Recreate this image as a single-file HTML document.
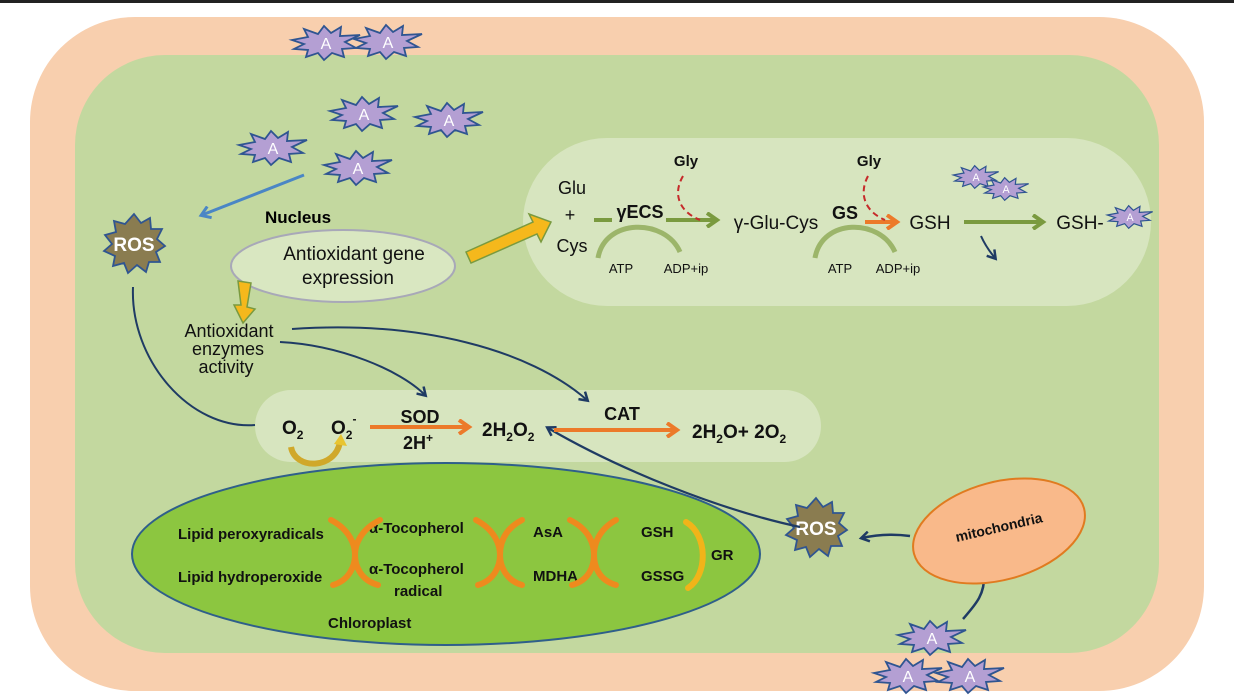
<!DOCTYPE html>
<html><head><meta charset="utf-8"><style>
html,body{margin:0;padding:0;background:#fff;}
svg{display:block;}
text{font-family:"Liberation Sans",sans-serif;}
</style></head><body>
<svg width="1234" height="696" viewBox="0 0 1234 696" xmlns="http://www.w3.org/2000/svg">
<defs>
<symbol id="star" viewBox="-36 -18 72 36" overflow="visible">
<polygon points="-34,-3 -18,-6 -22,-14 -8,-9 -2,-17 5,-10 15,-16 14,-7 34,-8 19,-1 30,5 16,6 18,14 6,10 -2,17 -8,10 -20,14 -18,7 -32,6 -22,1" fill="#b49fd3" stroke="#2f5591" stroke-width="1.8" stroke-linejoin="miter"/>
<text x="0" y="6" text-anchor="middle" font-size="16" fill="#fff">A</text>
</symbol>
<symbol id="ros" viewBox="-32 -30 64 60" overflow="visible">
<polygon points="0,-30 7,-21 16,-26 17,-15 28,-15 23,-5 31,2 22,8 26,18 15,18 12,28 3,21 -6,29 -10,19 -21,22 -19,12 -30,7 -22,0 -29,-9 -18,-12 -20,-23 -9,-20" fill="#8a7c50" stroke="#2f5591" stroke-width="1.8"/>
<text x="0" y="7" text-anchor="middle" font-size="19" font-weight="bold" fill="#fff">ROS</text>
</symbol>
<marker id="ab" markerWidth="12" markerHeight="12" refX="8" refY="6" orient="auto" markerUnits="userSpaceOnUse"><path d="M1,1 L9,6 L1,11" fill="none" stroke="#1f3b64" stroke-width="2.5"/></marker>
<marker id="al" markerWidth="14" markerHeight="14" refX="9" refY="7" orient="auto" markerUnits="userSpaceOnUse"><path d="M1,1 L10,7 L1,13" fill="none" stroke="#4a86c5" stroke-width="3"/></marker>
<marker id="ag" markerWidth="16" markerHeight="16" refX="11" refY="8" orient="auto" markerUnits="userSpaceOnUse"><path d="M2,1 L12,8 L2,15" fill="none" stroke="#7a9a3f" stroke-width="4"/></marker>
<marker id="ao" markerWidth="16" markerHeight="16" refX="11" refY="8" orient="auto" markerUnits="userSpaceOnUse"><path d="M2,1 L12,8 L2,15" fill="none" stroke="#ec7a2a" stroke-width="4"/></marker>
</defs>
<rect width="1234" height="696" fill="#fff"/>
<rect x="0" y="0" width="1234" height="3" fill="#222"/>
<rect x="30" y="17" width="1174" height="674" rx="105" fill="#f8cfae"/>
<rect x="75" y="55" width="1084" height="598" rx="90" fill="#c3d89f"/>

<rect x="523" y="138" width="628" height="168" rx="84" fill="#d7e5bf"/>
<rect x="255" y="390" width="566" height="72" rx="36" fill="#d7e5bf"/>

<use href="#star" x="290" y="25" width="72" height="36"/>
<use href="#star" x="352" y="24" width="72" height="36"/>
<use href="#star" x="328" y="96" width="72" height="36"/>
<use href="#star" x="413" y="102" width="72" height="36"/>
<use href="#star" x="237" y="130" width="72" height="36"/>
<use href="#star" x="322" y="150" width="72" height="36"/>
<use href="#star" x="952" y="162" width="48" height="30"/>
<use href="#star" x="982" y="174" width="48" height="30"/>
<use href="#star" x="1106" y="202" width="48" height="30"/>
<use href="#star" x="896" y="620" width="72" height="36"/>
<use href="#star" x="872" y="658" width="72" height="36"/>
<use href="#star" x="934" y="658" width="72" height="36"/>

<use href="#ros" x="102" y="214" width="64" height="60"/>
<use href="#ros" x="784" y="498" width="64" height="60"/>

<line x1="304" y1="175" x2="202" y2="215" stroke="#4a86c5" stroke-width="3" marker-end="url(#al)"/>

<text x="265" y="223" font-size="17" font-weight="bold" fill="#000">Nucleus</text>
<ellipse cx="343" cy="266" rx="112" ry="36" fill="#d9e7c1" stroke="#a8a8b8" stroke-width="2"/>
<text x="354" y="260" text-anchor="middle" font-size="19" fill="#111">Antioxidant gene</text>
<text x="348" y="284" text-anchor="middle" font-size="19" fill="#111">expression</text>

<polygon points="466,252 533,222 529,214 551,222 541,242 537,234 471,263" fill="#f5b81c" stroke="#7a9a3f" stroke-width="1.5"/>
<polygon points="238,281 251,283 247,307 255,309 243,323 234,305 241,305" fill="#f5b81c" stroke="#7a9a3f" stroke-width="1.5"/>

<text x="229" y="337" text-anchor="middle" font-size="18" fill="#111">Antioxidant</text>
<text x="228" y="355" text-anchor="middle" font-size="18" fill="#111">enzymes</text>
<text x="226" y="373" text-anchor="middle" font-size="18" fill="#111">activity</text>

<path d="M133,287 C130,360 190,430 255,425" fill="none" stroke="#1f3b64" stroke-width="2"/>
<path d="M280,342 C340,345 400,370 425,395" fill="none" stroke="#1f3b64" stroke-width="2" marker-end="url(#ab)"/>
<path d="M292,329 C420,320 530,350 587,400" fill="none" stroke="#1f3b64" stroke-width="2" marker-end="url(#ab)"/>
<path d="M800,527 C720,510 620,470 548,428" fill="none" stroke="#1f3b64" stroke-width="2.2" marker-end="url(#ab)"/>
<path d="M910,536 C895,534 880,534 862,538" fill="none" stroke="#1f3b64" stroke-width="2.5" marker-end="url(#ab)"/>
<path d="M963,619 C975,605 985,595 984,575" fill="none" stroke="#1f3b64" stroke-width="2.5" marker-end="url(#ab)"/>
<path d="M981,236 C985,245 990,252 995,258" fill="none" stroke="#1f3b64" stroke-width="2" marker-end="url(#ab)"/>

<text x="572" y="194" text-anchor="middle" font-size="18" fill="#111">Glu</text>
<text x="570" y="221" text-anchor="middle" font-size="18" fill="#111">+</text>
<text x="572" y="252" text-anchor="middle" font-size="18" fill="#111">Cys</text>
<line x1="594" y1="220" x2="612" y2="220" stroke="#7a9a3f" stroke-width="4"/>
<text x="640" y="218" text-anchor="middle" font-size="18" font-weight="bold" fill="#111">γECS</text>
<line x1="666" y1="220" x2="716" y2="220" stroke="#7a9a3f" stroke-width="4" marker-end="url(#ag)"/>
<text x="686" y="166" text-anchor="middle" font-size="15" font-weight="bold" fill="#111">Gly</text>
<path d="M683,176 C672,195 680,212 700,220" fill="none" stroke="#c62a2a" stroke-width="2" stroke-dasharray="6,4"/>
<path d="M598,258 C605,218 665,218 680,252" fill="none" stroke="#9cb56a" stroke-width="5"/>
<text x="621" y="273" text-anchor="middle" font-size="13" fill="#111">ATP</text>
<text x="686" y="273" text-anchor="middle" font-size="13" fill="#111">ADP+ip</text>
<text x="776" y="229" text-anchor="middle" font-size="19" fill="#111">γ-Glu-Cys</text>
<text x="845" y="219" text-anchor="middle" font-size="18" font-weight="bold" fill="#111">GS</text>
<line x1="865" y1="222" x2="896" y2="222" stroke="#ec7a2a" stroke-width="4" marker-end="url(#ao)"/>
<text x="869" y="166" text-anchor="middle" font-size="15" font-weight="bold" fill="#111">Gly</text>
<path d="M868,176 C858,195 866,212 885,220" fill="none" stroke="#c62a2a" stroke-width="2" stroke-dasharray="6,4"/>
<path d="M815,258 C822,218 880,218 895,252" fill="none" stroke="#9cb56a" stroke-width="5"/>
<text x="840" y="273" text-anchor="middle" font-size="13" fill="#111">ATP</text>
<text x="898" y="273" text-anchor="middle" font-size="13" fill="#111">ADP+ip</text>
<text x="930" y="229" text-anchor="middle" font-size="19" fill="#111">GSH</text>
<line x1="964" y1="222" x2="1042" y2="222" stroke="#7a9a3f" stroke-width="4" marker-end="url(#ag)"/>
<text x="1080" y="229" text-anchor="middle" font-size="19" fill="#111">GSH-</text>

<text x="282" y="434" font-size="19" font-weight="bold" fill="#111">O<tspan font-size="12" dy="5">2</tspan></text>
<text x="331" y="434" font-size="19" font-weight="bold" fill="#111">O<tspan font-size="12" dy="5">2</tspan><tspan font-size="12" dy="-16">-</tspan></text>
<path d="M291,447 C295,470 335,470 340,442" fill="none" stroke="#d0a82a" stroke-width="6"/>
<polygon points="334,444 341,434 347,446" fill="#e8c430"/>
<line x1="370" y1="427" x2="468" y2="427" stroke="#ec7a2a" stroke-width="4" marker-end="url(#ao)"/>
<text x="420" y="423" text-anchor="middle" font-size="18" font-weight="bold" fill="#111">SOD</text>
<text x="418" y="449" text-anchor="middle" font-size="18" font-weight="bold" fill="#111">2H<tspan font-size="12" dy="-7">+</tspan></text>
<text x="482" y="436" font-size="19" font-weight="bold" fill="#111">2H<tspan font-size="12" dy="5">2</tspan><tspan dy="-5">O</tspan><tspan font-size="12" dy="5">2</tspan></text>
<line x1="554" y1="430" x2="676" y2="430" stroke="#ec7a2a" stroke-width="4" marker-end="url(#ao)"/>
<text x="622" y="420" text-anchor="middle" font-size="18" font-weight="bold" fill="#111">CAT</text>
<text x="692" y="438" font-size="19" font-weight="bold" fill="#111">2H<tspan font-size="12" dy="5">2</tspan><tspan dy="-5">O+ 2O</tspan><tspan font-size="12" dy="5">2</tspan></text>

<ellipse cx="446" cy="554" rx="314" ry="91" fill="#8cc640" stroke="#2f5f8a" stroke-width="2"/>
<g font-size="15" font-weight="bold" fill="#111">
<text x="178" y="539">Lipid peroxyradicals</text>
<text x="178" y="582">Lipid hydroperoxide</text>
<text x="369" y="533">α-Tocopherol</text>
<text x="369" y="574">α-Tocopherol</text>
<text x="394" y="596">radical</text>
<text x="533" y="537">AsA</text>
<text x="533" y="581">MDHA</text>
<text x="641" y="537">GSH</text>
<text x="641" y="581">GSSG</text>
<text x="711" y="560">GR</text>
<text x="328" y="628">Chloroplast</text>
</g>
<g fill="none" stroke="#ee8a1e" stroke-width="6" stroke-linecap="round">
<path d="M331,520 C350,530 355,545 355,555 C355,565 350,580 333,585"/>
<path d="M380,520 C360,530 355,545 355,555 C355,565 360,580 378,585"/>
<path d="M476,520 C495,530 500,545 500,555 C500,565 495,580 478,585"/>
<path d="M522,520 C503,530 500,545 500,555 C500,565 505,580 522,585"/>
<path d="M570,520 C590,530 594,545 594,555 C594,565 590,580 572,585"/>
<path d="M616,520 C598,530 594,545 594,555 C594,565 598,580 616,585"/>
<path d="M686,522 C708,535 708,575 688,588" stroke="#f1b419"/>
</g>

<ellipse cx="999" cy="531" rx="88" ry="49" transform="rotate(-15 999 531)" fill="#f9b98a" stroke="#e07b20" stroke-width="2"/>
<text x="1000" y="532" text-anchor="middle" font-size="14" font-weight="bold" fill="#111" transform="rotate(-13 1000 532)">mitochondria</text>
</svg>
</body></html>
